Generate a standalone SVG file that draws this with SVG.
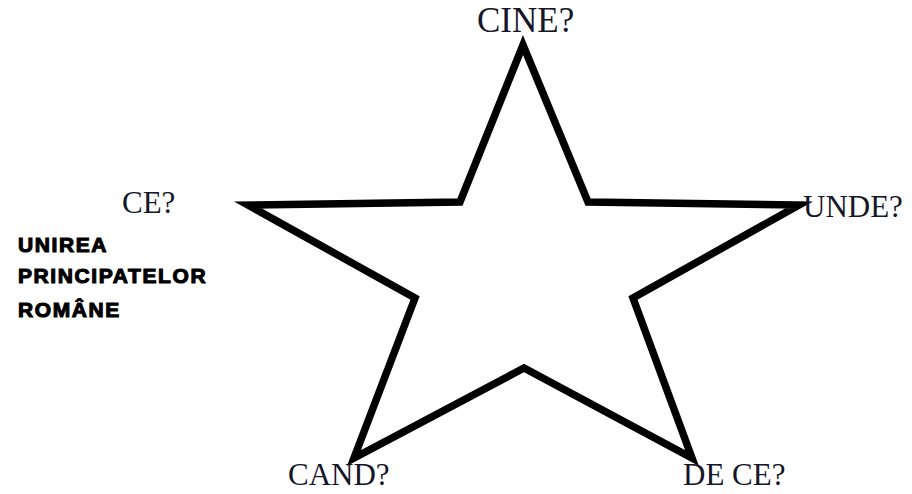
<svg xmlns="http://www.w3.org/2000/svg" width="912" height="494" viewBox="0 0 912 494">
<style>
.q{font-family:"Liberation Serif","Times New Roman",serif;font-size:31px;fill:#16162a}
.t{font-family:"Liberation Sans",Arial,sans-serif;font-weight:bold;font-size:21px;fill:#000;stroke:#000;stroke-width:1.1;letter-spacing:1.6px}
</style>
<rect width="912" height="494" fill="#fff"/>
<g id="star">
<path d="M523,45 L588,202 L799,205 L633,298 L692,458 L524,368 L354,458 L415,298 L248,205 L460,202 Z" fill="none" stroke="#000" stroke-width="7.5" stroke-linejoin="miter"/>
</g>
<g id="labels">
<text class="q" x="477" y="32" style="font-size:35px">CINE?</text>
<text class="q" x="122" y="213">CE?</text>
<text class="q" x="803" y="217">UNDE?</text>
<text class="q" x="288" y="485">CAND?</text>
<text class="q" x="683" y="485">DE CE?</text>
</g>
<g id="title">
<text class="t" x="18" y="252">UNIREA</text>
<text class="t" x="18" y="283">PRINCIPATELOR</text>
<text class="t" x="18" y="317">ROMÂNE</text>
</g>
</svg>
